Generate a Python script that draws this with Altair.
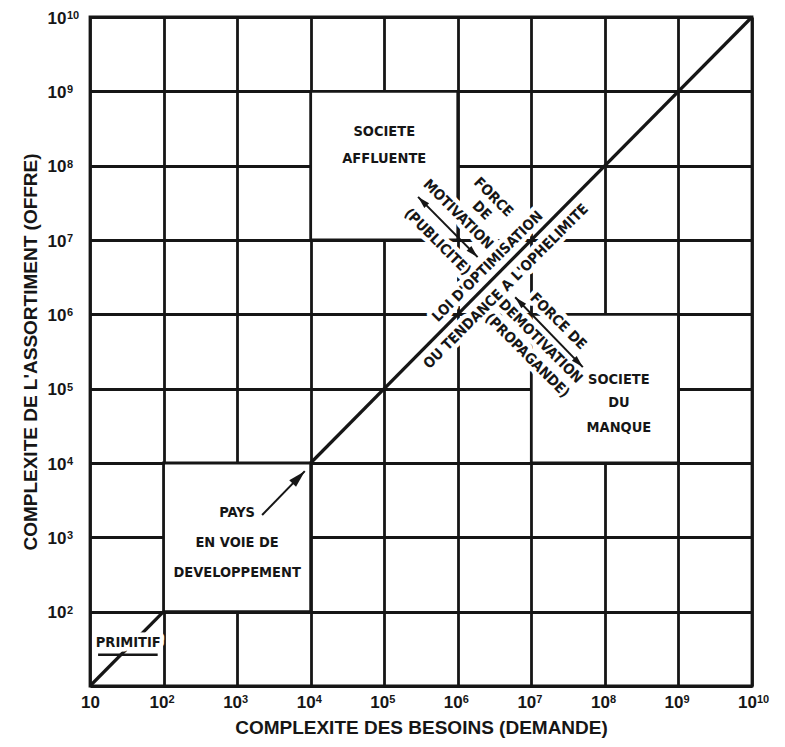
import altair as alt
import pandas as pd
import math

# ---------------- data (all positions are log10 exponents) ----------------
DECADES = [10, 1e2, 1e3, 1e4, 1e5, 1e6, 1e7, 1e8, 1e9, 1e10]
EXP_DECADES = [1e2, 1e3, 1e4, 1e5, 1e6, 1e7, 1e8, 1e9, 1e10]
EXP_TEXT = ["2", "3", "4", "5", "6", "7", "8", "9", "10"]

X_TITLE = "COMPLEXITE DES BESOINS (DEMANDE)"
Y_TITLE = "COMPLEXITE DE L'ASSORTIMENT (OFFRE)"

# diagonal ("loi d'optimisation"), drawn outside the PAYS box
diag_start = [1, 4]
diag_end = [2, 10]

# boxes
box_x0 = [4, 7, 2]
box_x1 = [6, 9, 4]
box_y0 = [7, 4, 2]
box_y1 = [9, 6, 4]

# horizontal labels inside boxes
box_text = ["SOCIETE", "AFFLUENTE", "SOCIETE", "DU", "MANQUE",
            "PAYS", "EN VOIE DE", "DEVELOPPEMENT"]
box_text_x = [5.0, 5.0, 8.19, 8.19, 8.19, 3.0, 3.0, 3.0]
box_text_y = [8.45, 8.09, 5.12, 4.81, 4.47, 3.33, 2.92, 2.52]

# primitif label + underline
prim_text = ["PRIMITIF"]
prim_x = [1.52]
prim_y = [1.58]
underline_x0 = [1.11]
underline_x1 = [1.92]
underline_y = [1.42]

# texts along the diagonal (rising)
rise_text = ["LOI D'OPTIMISATION", "OU TENDANCE A L'OPHELIMITE"]
rise_x = [6.41, 6.66]
rise_y = [6.64, 6.37]

# texts across the diagonal (falling)
fall_text = ["FORCE", "DE", "MOTIVATION", "(PUBLICITE)",
             "FORCE DE", "DEMOTIVATION", "(PROPAGANDE)"]
fall_x = [6.48, 6.32, 6.00, 5.72, 7.36, 7.12, 6.94]
fall_y = [7.57, 7.39, 7.34, 6.97, 5.90, 5.63, 5.44]

# arrows
arrow_x0 = [5.46, 6.78, 3.34]
arrow_y0 = [7.58, 6.23, 3.30]
arrow_x1 = [6.27, 7.70, 3.92]
arrow_y1 = [6.77, 5.29, 3.89]
arrow_heads = ["both", "both", "end"]

# ---------------- build tables ----------------
def p10(v):
    return [10 ** e for e in v]

diag_df = pd.DataFrame({"x": p10(diag_start), "y": p10(diag_start),
                        "x2": p10(diag_end), "y2": p10(diag_end)})
box_df = pd.DataFrame({"x": p10(box_x0), "x2": p10(box_x1),
                       "y": p10(box_y0), "y2": p10(box_y1)})
boxtxt_df = pd.DataFrame({"t": box_text, "x": p10(box_text_x), "y": p10(box_text_y)})
prim_df = pd.DataFrame({"t": prim_text, "x": p10(prim_x), "y": p10(prim_y)})
ul_df = pd.DataFrame({"x": p10(underline_x0), "x2": p10(underline_x1), "y": p10(underline_y)})
rise_df = pd.DataFrame({"t": rise_text, "x": p10(rise_x), "y": p10(rise_y)})
fall_df = pd.DataFrame({"t": fall_text, "x": p10(fall_x), "y": p10(fall_y)})
arrow_df = pd.DataFrame({"x": p10(arrow_x0), "y": p10(arrow_y0),
                         "x2": p10(arrow_x1), "y2": p10(arrow_y1)})
xexp_df = pd.DataFrame({"x": EXP_DECADES, "y": [10] * len(EXP_DECADES), "t": EXP_TEXT})
yexp_df = pd.DataFrame({"x": [10] * len(EXP_DECADES), "y": EXP_DECADES, "t": EXP_TEXT})

heads = []
for i in range(len(arrow_x0)):
    dx = arrow_x1[i] - arrow_x0[i]
    dy = arrow_y1[i] - arrow_y0[i]
    ang = math.degrees(math.atan2(dx, dy)) % 360
    heads.append({"x": 10 ** arrow_x1[i], "y": 10 ** arrow_y1[i], "angle": ang, "k": arrow_heads[i]})
    if arrow_heads[i] == "both":
        heads.append({"x": 10 ** arrow_x0[i], "y": 10 ** arrow_y0[i], "angle": (ang + 180) % 360, "k": "both"})
heads_df = pd.DataFrame(heads)
heads_small = heads_df[heads_df.k == "both"]
heads_big = heads_df[heads_df.k == "end"]

# ---------------- encodings ----------------
INK = "#161616"
FONT = "Liberation Sans"
NARROW = "Liberation Sans Narrow, DejaVu Sans Condensed, Roboto Condensed, Liberation Sans"
LABEL_SIZE = 17
EXP_SIZE = 11

SC = alt.Scale(type="log", domain=[10, 1e10], nice=False)

XAX = alt.Axis(values=DECADES, labelExpr="'10'", grid=True, ticks=False, domain=False,
               labelFlush=False, labelOverlap=False, labelPadding=21,
               labelBaseline="alphabetic",
               labelOffset={"condition": {"test": "datum.value == 10", "value": 0}, "value": -5},
               titleY=41, titleBaseline="middle")
YAX = alt.Axis(values=DECADES, labelExpr="datum.value == 10 ? '' : '10'", grid=True, ticks=False,
               domain=False, labelFlush=False, labelOverlap=False, labelPadding=43,
               labelAlign="left", labelBaseline="alphabetic", labelOffset=6,
               titleX=-60, titleBaseline="middle")


def X(f="x"):
    return alt.X(f, type="quantitative", scale=SC, axis=XAX, title=X_TITLE)


def Y(f="y"):
    return alt.Y(f, type="quantitative", scale=SC, axis=YAX, title=Y_TITLE)


boxes = alt.Chart(box_df).mark_rect(fill="white", stroke=INK, strokeWidth=2.8).encode(
    x=X(), x2="x2", y=Y(), y2="y2")

FS = 14.5
halo_kw = dict(font=NARROW, fontSize=FS, fontWeight="bold", align="center", baseline="middle",
               color="white", stroke="white", strokeWidth=9, strokeJoin="round")
txt_kw = dict(font=NARROW, fontSize=FS, fontWeight="bold", align="center", baseline="middle",
              color=INK)

rise_halo = alt.Chart(rise_df).mark_text(angle=315, **halo_kw).encode(x=X(), y=Y(), text="t")
fall_halo = alt.Chart(fall_df).mark_text(angle=45, **halo_kw).encode(x=X(), y=Y(), text="t")

diag = alt.Chart(diag_df).mark_rule(color=INK, strokeWidth=3.2).encode(
    x=X(), y=Y(), x2="x2", y2="y2")

prim_halo = alt.Chart(prim_df).mark_text(**halo_kw).encode(x=X(), y=Y(), text="t")

rise_txt = alt.Chart(rise_df).mark_text(angle=315, **txt_kw).encode(x=X(), y=Y(), text="t")
fall_txt = alt.Chart(fall_df).mark_text(angle=45, **txt_kw).encode(x=X(), y=Y(), text="t")
box_txt = alt.Chart(boxtxt_df).mark_text(**txt_kw).encode(x=X(), y=Y(), text="t")
prim_txt = alt.Chart(prim_df).mark_text(**txt_kw).encode(x=X(), y=Y(), text="t")

underline = alt.Chart(ul_df).mark_rule(color=INK, strokeWidth=2.6).encode(
    x=X(), x2="x2", y=Y())

shafts = alt.Chart(arrow_df).mark_rule(color=INK, strokeWidth=2).encode(
    x=X(), y=Y(), x2="x2", y2="y2")

HEAD = "M0,0L0.55,2L-0.55,2Z"
heads_s = alt.Chart(heads_small).mark_point(shape=HEAD, filled=True, fill=INK, opacity=1,
                                            strokeWidth=0, size=150).encode(
    x=X(), y=Y(), angle=alt.Angle("angle:Q", scale=None))
heads_b = alt.Chart(heads_big).mark_point(shape=HEAD, filled=True, fill=INK, opacity=1,
                                          strokeWidth=0, size=300).encode(
    x=X(), y=Y(), angle=alt.Angle("angle:Q", scale=None))

exp_kw = dict(font=FONT, fontSize=EXP_SIZE, fontWeight="bold", align="left",
              baseline="alphabetic", color=INK)
x_exp = alt.Chart(xexp_df).mark_text(dx=5, dy=17, **exp_kw).encode(x=X(), y=Y(), text="t")
y_exp = alt.Chart(yexp_df).mark_text(dx=-23, dy=2, **exp_kw).encode(x=X(), y=Y(), text="t")

chart = alt.layer(
    boxes, rise_halo, fall_halo, diag, prim_halo,
    rise_txt, fall_txt, box_txt, prim_txt, underline, shafts, heads_s, heads_b,
    x_exp, y_exp
).properties(
    width=662, height=669,
    autosize=alt.AutoSizeParams(type="none"),
    padding={"left": 82, "top": 9, "right": 20, "bottom": 52},
    background="white",
).configure_axis(
    labelFont=FONT, labelFontSize=LABEL_SIZE, labelFontWeight="bold", labelColor=INK,
    titleFont=FONT, titleFontSize=19, titleFontWeight="bold", titleColor=INK,
    gridColor=INK, gridWidth=2.8, gridOpacity=1,
).configure_view(stroke=INK, strokeWidth=2.8)

chart.save("out.html", embed_options={"renderer": "svg", "actions": False})
